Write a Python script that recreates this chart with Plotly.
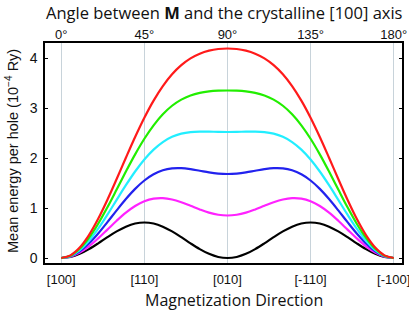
import plotly.graph_objects as go

angles = list(range(0, 181, 5))

half_black = [0, 0.021, 0.083, 0.178, 0.293, 0.417, 0.533, 0.627, 0.689, 0.710,
              0.689, 0.627, 0.533, 0.417, 0.293, 0.178, 0.083, 0.021, 0]
half_magenta = [0, 0.028, 0.109, 0.234, 0.393, 0.568, 0.745, 0.907, 1.040, 1.135,
                1.187, 1.197, 1.170, 1.115, 1.044, 0.971, 0.907, 0.865, 0.850]
half_blue = [0, 0.034, 0.134, 0.290, 0.490, 0.717, 0.953, 1.180, 1.383, 1.550,
             1.674, 1.754, 1.793, 1.797, 1.777, 1.745, 1.712, 1.689, 1.680]
half_cyan = [0, 0.041, 0.159, 0.346, 0.588, 0.867, 1.163, 1.456, 1.730, 1.970,
             2.167, 2.318, 2.423, 2.487, 2.519, 2.529, 2.527, 2.522, 2.520]
half_green = [0, 0.047, 0.184, 0.402, 0.685, 1.015, 1.370, 1.729, 2.073, 2.385,
              2.654, 2.875, 3.045, 3.168, 3.251, 3.303, 3.332, 3.346, 3.350]
half_red = [0, 0.053, 0.209, 0.458, 0.783, 1.165, 1.580, 2.005, 2.420, 2.805,
            3.147, 3.438, 3.675, 3.858, 3.993, 4.087, 4.147, 4.180, 4.190]

def full(h):
    return h + h[-2::-1]

series = [
    ("black", full(half_black), "#000000"),
    ("magenta", full(half_magenta), "#ff22ff"),
    ("blue", full(half_blue), "#2222ee"),
    ("cyan", full(half_cyan), "#22eeff"),
    ("green", full(half_green), "#22ee00"),
    ("red", full(half_red), "#ff1a1a"),
]

tick_pos = [0, 45, 90, 135, 180]
bottom_labels = ["[100]", "[110]", "[010]", "[-110]", "[-100]"]
top_labels = ["0°", "45°", "90°", "135°", "180°"]

W, H = 409, 311
L, R, T, B = 45, 7, 43, 48

fig = go.Figure()
for name, ys, col in series:
    fig.add_trace(go.Scatter(x=angles, y=ys, mode="lines", name=name,
                             line=dict(color=col, width=2.2, shape="spline"),
                             showlegend=False))
fig.add_trace(go.Scatter(x=[0, 180], y=[0, 0], xaxis="x2", mode="lines",
                         line=dict(width=0), opacity=0, showlegend=False,
                         hoverinfo="skip"))

xr = [-8.8, 184.5]
tickfont = dict(family="Liberation Sans, Arial", size=13, color="#111")

def px_x(px):
    return (px - L) / (W - L - R)

def px_y(py):
    return (H - B - py) / (H - T - B)

fig.update_layout(
    width=W, height=H,
    margin=dict(l=L, r=R, t=T, b=B, autoexpand=False),
    paper_bgcolor="white", plot_bgcolor="white",
    xaxis=dict(range=xr, tickvals=tick_pos, ticktext=bottom_labels,
               showgrid=True, gridcolor="#c8d3da", gridwidth=1,
               zeroline=False, showline=True, linecolor="black", linewidth=1.5,
               mirror=True, ticks="", tickfont=tickfont, automargin=False,
               ticklabeloverflow="allow", ticklabelstandoff=4),
    xaxis2=dict(range=xr, overlaying="x", side="top", tickvals=tick_pos,
                ticktext=top_labels, showgrid=False, zeroline=False,
                showline=False, ticks="", tickfont=tickfont, automargin=False,
                ticklabeloverflow="allow"),
    yaxis=dict(range=[-0.1, 4.3], tickvals=[0, 1, 2, 3, 4],
               showgrid=False, zeroline=False, showline=True, linecolor="black",
               linewidth=1.5, mirror="ticks", ticks="inside", ticklen=3,
               tickcolor="black", tickfont=dict(family="Liberation Sans, Arial", size=14, color="#111"),
               automargin=False, ticklabelstandoff=3),
    annotations=[
        dict(text="Angle between <b>M</b> and the crystalline [100] axis",
             xref="paper", yref="paper", x=px_x(224), y=px_y(13),
             xanchor="center", yanchor="middle", showarrow=False,
             font=dict(family="Open Sans", size=16.5, color="#111")),
        dict(text="Magnetization Direction",
             xref="paper", yref="paper", x=px_x(234), y=px_y(300),
             xanchor="center", yanchor="middle", showarrow=False,
             font=dict(family="Open Sans", size=16, color="#111")),
        dict(text="Mean energy per hole (10<sup>−4</sup> Ry)",
             xref="paper", yref="paper", x=px_x(12), y=px_y(151),
             xanchor="center", yanchor="middle", showarrow=False, textangle=-90,
             font=dict(family="Liberation Sans, Arial", size=14.5, color="#111")),
    ],
)

fig.write_html("out.html", config={"displayModeBar": False},
               post_script="document.body.style.margin='0px';document.body.style.overflow='hidden';")
